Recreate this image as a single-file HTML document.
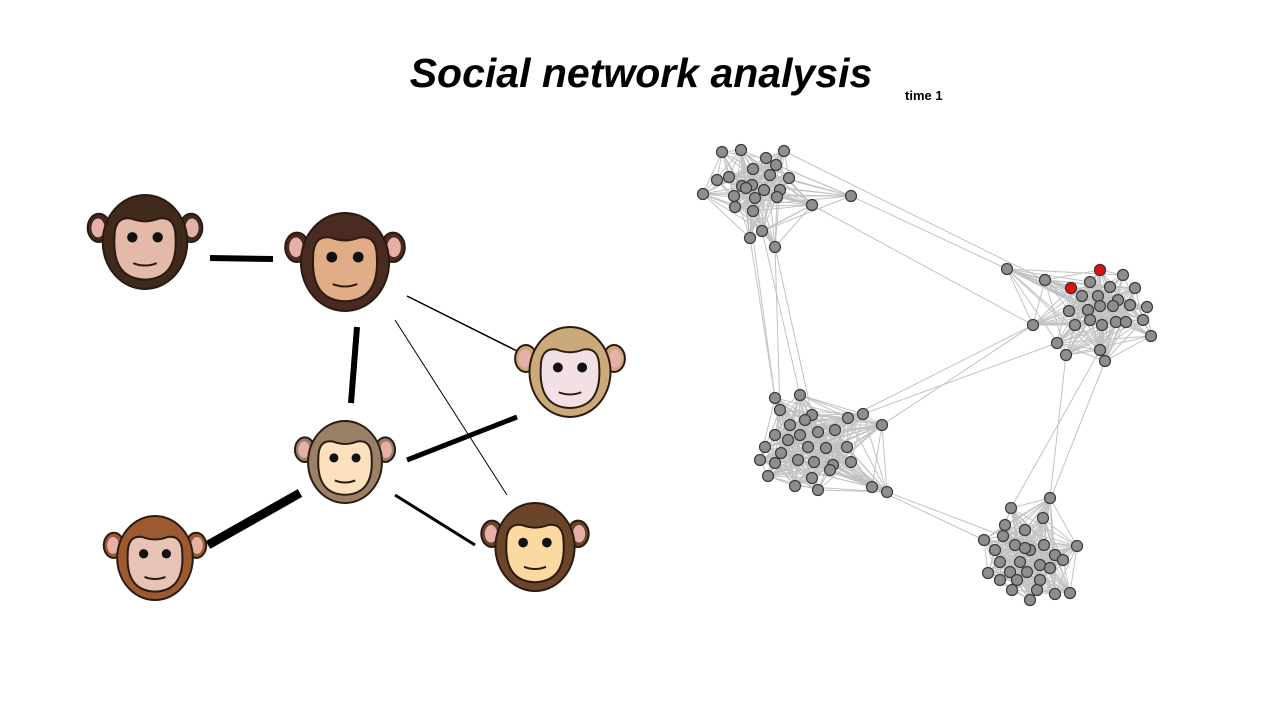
<!DOCTYPE html>
<html><head><meta charset="utf-8"><style>
html,body{margin:0;padding:0;background:#fff;}
svg{display:block}
</style></head><body>
<svg id="s" width="1280" height="720" xmlns="http://www.w3.org/2000/svg">
<text x="641" y="87" text-anchor="middle" font-family="Liberation Sans, sans-serif" font-size="41" font-weight="bold" font-style="italic">Social network analysis</text>
<text x="905" y="100" font-family="Liberation Sans, sans-serif" font-size="13" font-weight="bold">time 1</text>
<g stroke="#000" stroke-linecap="butt">
<line x1="210" y1="258" x2="273" y2="259" stroke-width="6"/>
<line x1="357" y1="327" x2="351" y2="403" stroke-width="6"/>
<line x1="407" y1="296" x2="517" y2="351" stroke-width="1.5"/>
<line x1="395" y1="320" x2="507" y2="495" stroke-width="1"/>
<line x1="407" y1="460" x2="517" y2="417" stroke-width="5"/>
<line x1="208" y1="545" x2="300" y2="493" stroke-width="9"/>
<line x1="395" y1="495" x2="475" y2="545" stroke-width="3"/>
</g>
<g id="monkeys"></g>
<g id="edges" stroke="#c2c2c2" stroke-width="1"></g>
<g id="nodes" stroke="#3a3a3a" stroke-width="1.2"></g>
</svg>
<script>
var NS="http://www.w3.org/2000/svg";
function el(p,t,a){var e=document.createElementNS(NS,t);for(var k in a)e.setAttribute(k,a[k]);p.appendChild(e);return e;}
var M=document.getElementById('monkeys');
function monkey(cx,cy,r,fur,face,ear){
 var g=el(M,'g',{stroke:'#2a1a12','stroke-width':2});
 el(g,'ellipse',{cx:cx-r*0.98,cy:cy-r*0.3,rx:r*0.24,ry:r*0.3,fill:fur});
 el(g,'ellipse',{cx:cx+r*0.98,cy:cy-r*0.3,rx:r*0.24,ry:r*0.3,fill:fur});
 el(g,'ellipse',{cx:cx-r*1.0,cy:cy-r*0.3,rx:r*0.14,ry:r*0.2,fill:ear,stroke:'none'});
 el(g,'ellipse',{cx:cx+r*1.0,cy:cy-r*0.3,rx:r*0.14,ry:r*0.2,fill:ear,stroke:'none'});
 el(g,'ellipse',{cx:cx,cy:cy,rx:r*0.9,ry:r,fill:fur});
 el(g,'path',{d:'M'+(cx-r*0.65)+','+(cy-r*0.1)+' Q'+(cx-r*0.65)+','+(cy-r*0.55)+' '+(cx-r*0.3)+','+(cy-r*0.5)+' Q'+cx+','+(cy-r*0.38)+' '+(cx+r*0.3)+','+(cy-r*0.5)+' Q'+(cx+r*0.65)+','+(cy-r*0.55)+' '+(cx+r*0.65)+','+(cy-r*0.1)+' Q'+(cx+r*0.7)+','+(cy+r*0.78)+' '+cx+','+(cy+r*0.8)+' Q'+(cx-r*0.7)+','+(cy+r*0.78)+' '+(cx-r*0.65)+','+(cy-r*0.1)+'Z',fill:face});
 el(g,'circle',{cx:cx-r*0.27,cy:cy-r*0.1,r:r*0.11,fill:'#111',stroke:'none'});
 el(g,'circle',{cx:cx+r*0.27,cy:cy-r*0.1,r:r*0.11,fill:'#111',stroke:'none'});
 el(g,'path',{d:'M'+(cx-r*0.25)+','+(cy+r*0.45)+' Q'+cx+','+(cy+r*0.55)+' '+(cx+r*0.25)+','+(cy+r*0.45),fill:'none'});
}
monkey(145,242,47,'#3f2a1c','#e3b9a7','#e6b0a8');
monkey(345,262,49,'#4a2b22','#e0ad86','#e6b0a8');
monkey(570,372,45,'#c9aa78','#f3e0e4','#e6b0a8');
monkey(345,462,41,'#9b8068','#fde0bd','#e6b0a8');
monkey(155,558,42,'#9c5a30','#e6c3b5','#e6b0a8');
monkey(535,547,44,'#6b4528','#fbd9a0','#e6b0a8');

var A=[[722,152],[741,150],[784,151],[766,158],[753,169],[776,165],[717,180],[729,177],[770,175],[789,178],[742,186],[752,185],[764,190],[780,190],[703,194],[734,196],[746,188],[755,198],[777,197],[735,207],[753,211],[812,205],[851,196],[762,231],[750,238],[775,247]];
var B=[[1007,269],[1045,280],[1082,296],[1090,282],[1110,287],[1123,275],[1135,288],[1098,296],[1118,300],[1130,305],[1147,307],[1143,320],[1113,306],[1100,306],[1088,310],[1069,311],[1075,325],[1102,325],[1116,322],[1126,322],[1033,325],[1057,343],[1066,355],[1100,350],[1105,361],[1151,336],[1090,320],[1100,270],[1071,288]];
var C=[[775,398],[800,395],[780,410],[812,415],[848,418],[863,414],[882,425],[775,435],[788,440],[800,435],[818,432],[835,430],[808,447],[826,448],[847,447],[765,447],[781,453],[798,460],[814,462],[833,465],[851,462],[760,460],[775,463],[812,478],[830,470],[768,476],[795,486],[818,490],[872,487],[887,492],[805,420],[790,425]];
var D=[[1050,498],[1011,508],[1043,518],[984,540],[1003,536],[1025,530],[1044,545],[1077,546],[995,550],[1015,545],[1030,550],[1055,555],[1063,560],[1000,562],[1020,562],[1040,565],[988,573],[1010,572],[1027,572],[1050,568],[1000,580],[1017,580],[1040,580],[1012,590],[1037,590],[1055,594],[1070,593],[1030,600],[1025,548],[1005,525]];
var E=document.getElementById('edges'),N=document.getElementById('nodes');
var seed=7;function rnd(){seed=(seed*16807)%2147483647;return seed/2147483647;}
function ln(a,b){el(E,'line',{x1:a[0],y1:a[1],x2:b[0],y2:b[1]});}
[A,B,C,D].forEach(function(c){for(var i=0;i<c.length;i++)for(var j=i+1;j<c.length;j++)if(rnd()<0.6)ln(c[i],c[j]);});
var X=[[[851,196],[1007,269]],[[812,205],[1033,325]],[[784,151],[1045,280]],[[750,238],[775,398]],[[762,231],[800,395]],[[775,247],[780,410]],[[741,150],[775,398]],[[775,247],[812,415]],[[882,425],[1033,325]],[[863,414],[1057,343]],[[887,492],[1003,536]],[[872,487],[984,540]],[[1066,355],[1050,498]],[[1100,350],[1011,508]],[[1105,361],[1043,518]],[[848,418],[1033,325]]];
X.forEach(function(p){ln(p[0],p[1]);});
[A,B,C,D].forEach(function(c){c.forEach(function(p){el(N,'circle',{cx:p[0],cy:p[1],r:5.5,fill:'#8e8e8e'});});});
el(N,'circle',{cx:1100,cy:270,r:5.5,fill:'#e01010'});
el(N,'circle',{cx:1071,cy:288,r:5.5,fill:'#e01010'});
</script>
</body></html>
